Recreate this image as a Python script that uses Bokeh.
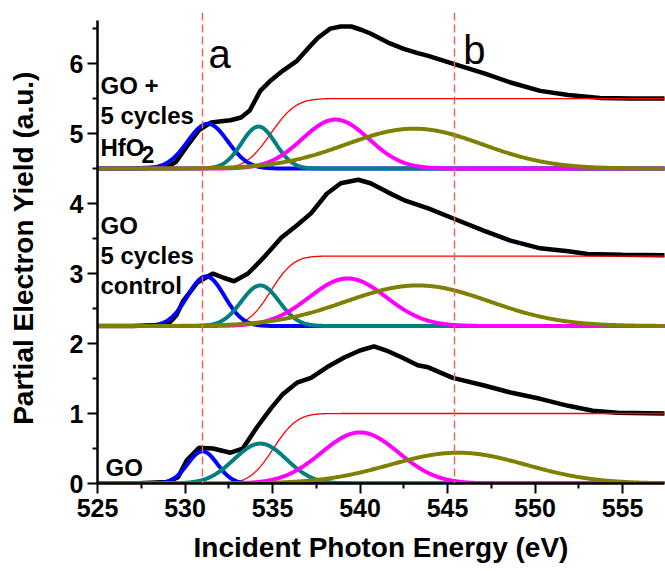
import numpy as np
from math import erf
from bokeh.plotting import figure
from bokeh.models import Range1d, FixedTicker, Label, Span
from bokeh.embed import file_html
from bokeh.resources import INLINE

# ---------------- data ----------------
x_ticks = [525, 530, 535, 540, 545, 550, 555]
x_minor = [527.5, 532.5, 537.5, 542.5, 547.5, 552.5, 557.5]
y_ticks = [0, 1, 2, 3, 4, 5, 6]
y_minor = [0.5, 1.5, 2.5, 3.5, 4.5, 5.5, 6.5]

offsets = [4.5, 2.25, 0.0]

# measured spectra (black), energy (eV) / yield (a.u.)
top_E = [525, 527, 529, 529.5, 530.2, 530.8, 531.5, 532.2, 532.6, 533.2, 533.7, 534.3,
         534.9, 535.6, 536.4, 537.0, 537.6, 538.3, 538.9, 539.5, 540.1, 540.6, 541.6,
         542.5, 543.3, 543.9, 545.3, 547.1, 548.6, 550.3, 551.9, 553.7, 555.5, 557.5]
top_Y = [4.50, 4.50, 4.52, 4.60, 4.85, 5.05, 5.16, 5.18, 5.19, 5.23, 5.33, 5.61,
         5.76, 5.90, 6.04, 6.21, 6.37, 6.50, 6.53, 6.53, 6.48, 6.43, 6.30,
         6.21, 6.15, 6.11, 6.00, 5.86, 5.73, 5.61, 5.55, 5.51, 5.50, 5.50]

mid_E = [525, 527, 529, 529.5, 529.9, 530.7, 531.6, 532.2, 532.8, 533.6, 534.5, 535.5,
         536.4, 537.2, 538.1, 538.9, 539.9, 540.6, 541.6, 542.5, 543.9, 545.3, 547.1,
         548.6, 550.3, 551.9, 553.0, 555.0, 557.5]
mid_Y = [2.25, 2.25, 2.27, 2.40, 2.61, 2.87, 3.00, 2.94, 2.89, 3.00, 3.23, 3.51,
         3.69, 3.86, 4.14, 4.29, 4.34, 4.29, 4.16, 4.05, 3.93, 3.79, 3.61,
         3.47, 3.36, 3.32, 3.28, 3.27, 3.26]

bot_E = [525, 527, 529, 529.6, 530.1, 530.8, 531.6, 532.6, 533.3, 534.1, 534.9, 535.6,
         536.4, 537.2, 538.1, 539.1, 540.0, 540.8, 541.6, 542.4, 543.3, 543.9, 545.3,
         547.1, 548.6, 550.3, 551.9, 553.3, 554.7, 557.5]
bot_Y = [0.0, 0.0, 0.02, 0.09, 0.33, 0.51, 0.50, 0.44, 0.50, 0.80, 1.07, 1.28,
         1.44, 1.51, 1.66, 1.80, 1.90, 1.96, 1.89, 1.80, 1.69, 1.66, 1.51,
         1.40, 1.30, 1.21, 1.11, 1.04, 1.01, 1.00]

# fitted components: Gaussian peaks (centre, height, sigma) and edge step
top_centers = [531.3, 534.2, 538.6, 543.1]
top_heights = [0.64, 0.60, 0.70, 0.57]
top_sigmas = [1.15, 0.97, 1.9, 3.9]
top_step = [534.9, 1.0, 1.6]   # centre, height, width

mid_centers = [531.2, 534.3, 539.3, 543.3]
mid_heights = [0.71, 0.58, 0.68, 0.58]
mid_sigmas = [1.05, 1.08, 2.2, 4.1]
mid_step = [534.9, 1.0, 1.45]

bot_centers = [531.0, 534.3, 540.0, 545.6]
bot_heights = [0.46, 0.57, 0.73, 0.44]
bot_sigmas = [0.85, 1.5, 2.2, 3.9]
bot_step = [535.05, 1.0, 1.5]

marker_energies = [531.0, 545.4]
peak_colors = ["#0000ff", "#008080", "#ff00ff", "#808000"]

# ---------------- figure ----------------
FONT = "Liberation Sans"
p = figure(width=665, height=571, output_backend="svg", toolbar_location=None,
           x_range=Range1d(525, 557.4), y_range=Range1d(0, 6.73),
           min_border_left=97, min_border_right=1, min_border_top=12, min_border_bottom=88)
p.grid.visible = False
p.outline_line_color = None
p.background_fill_color = "white"

grid = np.linspace(525, 557.5, 661)

spectra = [(top_E, top_Y, top_centers, top_heights, top_sigmas, top_step, offsets[0]),
           (mid_E, mid_Y, mid_centers, mid_heights, mid_sigmas, mid_step, offsets[1]),
           (bot_E, bot_Y, bot_centers, bot_heights, bot_sigmas, bot_step, offsets[2])]

for E, Y, cs, hs, ss, st, off in spectra:
    p.line(E, Y, line_color="black", line_width=4.5)
for E, Y, cs, hs, ss, st, off in spectra:
    step = off + st[1] * 0.5 * (1 + np.array([erf((g - st[0]) / st[2]) for g in grid]))
    p.line(grid, step, line_color="#ff0000", line_width=1.3)
    for c, h, s, col in zip(cs, hs, ss, peak_colors):
        gy = off + h * np.exp(-0.5 * ((grid - c) / s) ** 2)
        p.line(grid, gy, line_color=col, line_width=4)

# dashed markers
for xv in marker_energies:
    p.add_layout(Span(location=xv, dimension="height", line_color="#e8665a",
                      line_width=1.5, line_dash="8 4"))

# axes
for ax in (p.xaxis[0], p.yaxis[0]):
    ax.axis_line_width = 2.5
    ax.major_tick_line_width = 2
    ax.minor_tick_line_width = 2
    ax.major_tick_out = 10
    ax.major_tick_in = 0
    ax.minor_tick_out = 5
    ax.minor_tick_in = 0
    ax.major_label_text_font = FONT
    ax.major_label_text_font_style = "bold"
    ax.major_label_text_font_size = "25px"
    ax.major_label_text_color = "black"
    ax.axis_label_text_font = FONT
    ax.axis_label_text_font_style = "bold"
    ax.axis_label_text_font_size = "28px"
    ax.axis_label_text_color = "black"

p.xaxis.ticker = FixedTicker(ticks=x_ticks, minor_ticks=x_minor)
p.yaxis.ticker = FixedTicker(ticks=y_ticks, minor_ticks=y_minor)
p.yaxis.bounds = (0, 6.61)
p.xaxis.axis_label = "Incident Photon Energy (eV)"
p.yaxis.axis_label = "Partial Electron Yield (a.u.)"
p.xaxis.major_label_standoff = 5
p.yaxis.major_label_standoff = 4
p.xaxis.axis_label_standoff = 12
p.yaxis.axis_label_standoff = 28

def lab(x, y, t, size="24px", style="bold"):
    p.add_layout(Label(x=x, y=y, text=t, text_font=FONT, text_font_size=size,
                       text_font_style=style, text_color="black",
                       text_baseline="alphabetic", text_align="left"))

lab(531.34, 6.14, "a", "40px", "normal")
lab(545.9, 6.19, "b", "40px", "normal")
lab(525.17, 5.686, "GO +")
lab(525.17, 5.257, "5 cycles")
lab(525.17, 4.80, "HfO")
lab(527.51, 4.70, "2", "23px")
lab(525.17, 3.686, "GO")
lab(525.17, 3.257, "5 cycles")
lab(525.17, 2.829, "control")
lab(525.46, 0.229, "GO")

open("out.html", "w").write(file_html(p, INLINE))
